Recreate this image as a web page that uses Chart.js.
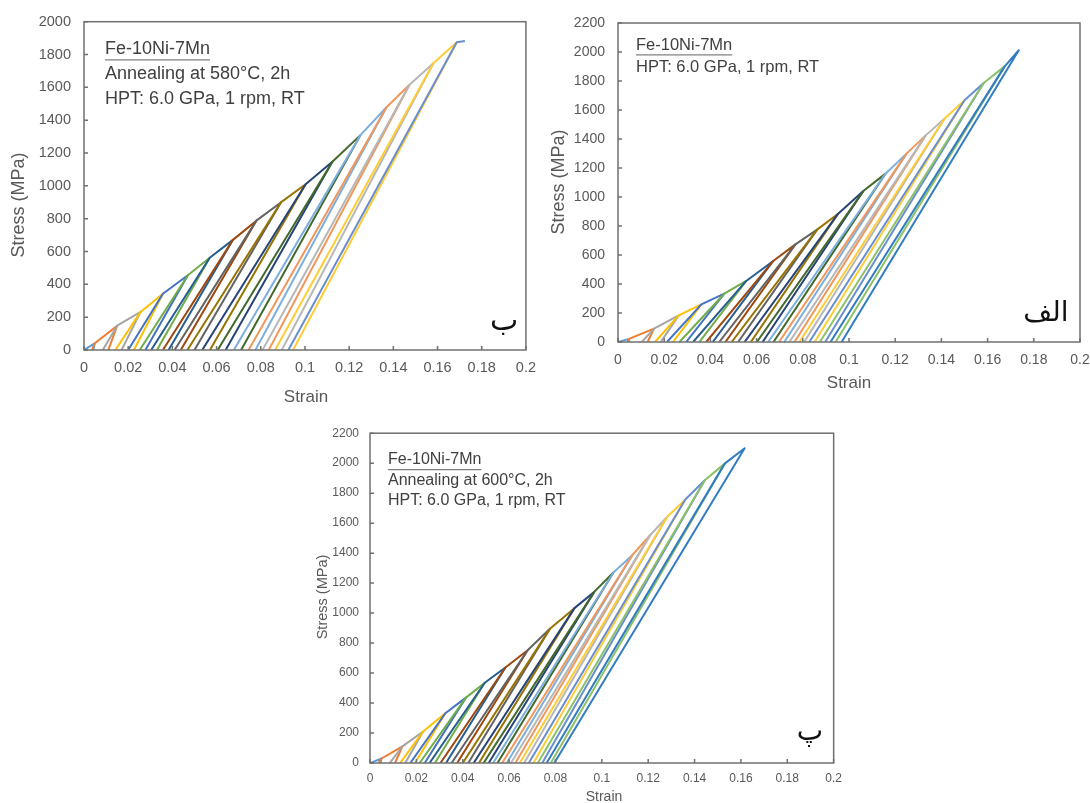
<!DOCTYPE html>
<html>
<head>
<meta charset="utf-8">
<script src="https://cdn.jsdelivr.net/npm/chart.js@4.4.1/dist/chart.umd.min.js"></script>
<style>
  html, body { margin: 0; padding: 0; background: #fff; }
  body { width: 1090px; height: 803px; position: relative; overflow: hidden; }
  .panel { position: absolute; }
</style>
</head>
<body>
<div class="panel" style="left:0;top:0"><canvas id="chartB" width="545" height="410"></canvas></div>
<div class="panel" style="left:545px;top:0"><canvas id="chartAlef" width="560" height="410"></canvas></div>
<div class="panel" style="left:300px;top:415px"><canvas id="chartPe" width="550" height="388"></canvas></div>
<script>
// Excel default series colours, in series order
const palette = ['#5B9BD5', '#ED7D31', '#A5A5A5', '#FFC000', '#4472C4', '#70AD47',
                 '#255E91', '#9E480E', '#636363', '#997300', '#264478', '#43682B',
                 '#7CAFDD', '#F1975A', '#B7B7B7', '#FFCD33', '#698ED0', '#8CC168', '#327DC2'];

const strainTicks = [0, 0.02, 0.04, 0.06, 0.08, 0.1, 0.12, 0.14, 0.16, 0.18, 0.2];
const stressTicks2000 = [0, 200, 400, 600, 800, 1000, 1200, 1400, 1600, 1800, 2000];
const stressTicks2200 = [0, 200, 400, 600, 800, 1000, 1200, 1400, 1600, 1800, 2000, 2200];

// ب : annealed 580°C, 2h — one entry per load/unload cycle
const bStart       = [0, 0.0036, 0.0085, 0.0142, 0.02, 0.0252, 0.0304, 0.0357, 0.041, 0.0468, 0.0535, 0.0605, 0.0678, 0.0745, 0.0808, 0.0865, 0.0925];
const bPeakStrain  = [0.0048, 0.015, 0.0256, 0.0357, 0.047, 0.0569, 0.0674, 0.078, 0.0891, 0.1003, 0.1124, 0.1251, 0.1369, 0.1473, 0.1581, 0.1687, 0.1724];
const bPeakStress  = [40, 148, 232, 343, 455, 562, 671, 788, 899, 1010, 1147, 1309, 1479, 1616, 1747, 1875, 1883];
const bUnloadEnd   = [0.0042, 0.011, 0.017, 0.0226, 0.0278, 0.033, 0.0383, 0.0438, 0.05, 0.057, 0.0641, 0.0711, 0.0776, 0.0836, 0.0895, 0.0946, null];

// الف : as-processed HPT
const alefStart      = [0, 0.005, 0.0103, 0.016, 0.0212, 0.0266, 0.0325, 0.0382, 0.0438, 0.0492, 0.0548, 0.0601, 0.065, 0.0697, 0.0742, 0.0785, 0.0828, 0.0874, 0.092];
const alefPeakStrain = [0.0045, 0.0156, 0.0263, 0.0361, 0.046, 0.0555, 0.0672, 0.0768, 0.0862, 0.0953, 0.1062, 0.1158, 0.1249, 0.1332, 0.1413, 0.15, 0.1583, 0.1674, 0.1735];
const alefPeakStress = [20, 92, 184, 260, 333, 421, 559, 673, 775, 885, 1041, 1161, 1299, 1425, 1540, 1667, 1786, 1901, 2012];
const alefUnloadEnd  = [0.0043, 0.0128, 0.0185, 0.0238, 0.0295, 0.0352, 0.041, 0.0465, 0.052, 0.0575, 0.0626, 0.0673, 0.072, 0.0764, 0.0806, 0.0851, 0.0897, 0.0942, 0.0968];

// پ : annealed 600°C, 2h
const peStart      = [0, 0.0037, 0.0085, 0.013, 0.0174, 0.0214, 0.0257, 0.0304, 0.0352, 0.04, 0.0447, 0.049, 0.0531, 0.057, 0.0608, 0.0646, 0.0685, 0.0724, 0.0762];
const pePeakStrain = [0.005, 0.014, 0.0229, 0.0325, 0.0414, 0.0495, 0.0584, 0.068, 0.0776, 0.0882, 0.0968, 0.105, 0.1131, 0.1208, 0.1282, 0.136, 0.1444, 0.153, 0.1616];
const pePeakStress = [30, 111, 210, 332, 436, 535, 637, 752, 895, 1033, 1143, 1271, 1386, 1519, 1643, 1758, 1886, 1997, 2100];
const peUnloadEnd  = [0.0045, 0.0108, 0.0152, 0.0194, 0.0236, 0.028, 0.0328, 0.0376, 0.0424, 0.047, 0.0512, 0.055, 0.059, 0.0627, 0.0665, 0.0705, 0.0743, 0.078, 0.0795];

const FONT = '"Liberation Sans", Arial, sans-serif';

// reload from the residual strain, pass the previous peak, reach the new peak, unload
function cycleDatasets(start, peakStrain, peakStress, unloadEnd) {
  return start.map((s, i) => {
    const pts = [{ x: s, y: 0 }];
    if (i > 0) pts.push({ x: peakStrain[i - 1], y: peakStress[i - 1] });
    pts.push({ x: peakStrain[i], y: peakStress[i] });
    if (unloadEnd[i] != null) pts.push({ x: unloadEnd[i], y: 0 });
    return {
      data: pts,
      borderColor: palette[i],
      borderWidth: 2,
      pointRadius: 0,
      showLine: true,
      tension: 0,
      borderJoinStyle: 'round',
      order: -i
    };
  });
}

// frame, inward tick marks, axis titles, notes and panel letter
const panelDecor = {
  id: 'panelDecor',
  afterDatasetsDraw(chart, args, o) {
    const ctx = chart.ctx;
    const a = chart.chartArea;
    const sx = chart.scales.x, sy = chart.scales.y;
    ctx.save();
    ctx.strokeStyle = '#707070';
    ctx.lineWidth = 1.5;
    ctx.strokeRect(a.left, a.top, a.right - a.left, a.bottom - a.top);
    ctx.beginPath();
    sx.ticks.forEach(t => {
      const px = sx.getPixelForValue(t.value);
      ctx.moveTo(px, a.bottom); ctx.lineTo(px, a.bottom - 4);
    });
    sy.ticks.forEach(t => {
      const py = sy.getPixelForValue(t.value);
      ctx.moveTo(a.left, py); ctx.lineTo(a.left + 4, py);
    });
    ctx.stroke();

    // axis titles
    ctx.fillStyle = '#595959';
    ctx.textAlign = 'center';
    ctx.textBaseline = 'middle';
    ctx.font = o.xTitleSize + 'px ' + FONT;
    ctx.fillText('Strain', o.xTitle[0], o.xTitle[1]);
    ctx.save();
    ctx.translate(o.yTitle[0], o.yTitle[1]);
    ctx.rotate(-Math.PI / 2);
    ctx.font = o.yTitleSize + 'px ' + FONT;
    ctx.fillText('Stress (MPa)', 0, 0);
    ctx.restore();

    // note block, first line underlined
    ctx.fillStyle = '#404040';
    ctx.textAlign = 'left';
    ctx.font = o.noteSize + 'px ' + FONT;
    o.notes.forEach((line, k) => {
      ctx.fillText(line, o.noteX, o.noteY + k * o.noteGap);
    });
    const w = ctx.measureText(o.notes[0]).width;
    ctx.strokeStyle = '#808080';
    ctx.lineWidth = 1.2;
    ctx.beginPath();
    ctx.moveTo(o.noteX, o.noteY + o.noteSize * 0.6);
    ctx.lineTo(o.noteX + w, o.noteY + o.noteSize * 0.6);
    ctx.stroke();

    // panel letter
    ctx.fillStyle = '#111';
    ctx.textAlign = 'center';
    ctx.font = o.letterSize + 'px "DejaVu Sans", sans-serif';
    ctx.fillText(o.letter, o.letterPos[0], o.letterPos[1]);
    ctx.restore();
  }
};

function makeChart(id, p) {
  const box = p.box;           // canvas origin on the page
  const canvas = document.getElementById(id);
  const fmt = v => String(+v.toFixed(2));
  return new Chart(canvas, {
    type: 'scatter',
    data: { datasets: cycleDatasets(p.start, p.peakStrain, p.peakStress, p.unloadEnd) },
    options: {
      responsive: false,
      animation: false,
      events: [],
      layout: {
        padding: { left: 0, top: p.area.top - box[1], right: box[0] + canvas.width - p.area.right, bottom: 0 }
      },
      plugins: {
        legend: { display: false },
        tooltip: { enabled: false },
        panelDecor: {
          xTitle: [p.xTitle[0] - box[0], p.xTitle[1] - box[1]], xTitleSize: p.xTitleSize,
          yTitle: [p.yTitle[0] - box[0], p.yTitle[1] - box[1]], yTitleSize: p.yTitleSize,
          notes: p.notes, noteX: p.noteX - box[0], noteY: p.noteY - box[1], noteGap: p.noteGap, noteSize: p.noteSize,
          letter: p.letter, letterPos: [p.letterPos[0] - box[0], p.letterPos[1] - box[1]], letterSize: p.letterSize
        }
      },
      scales: {
        x: {
          type: 'linear', min: 0, max: 0.2,
          grid: { display: false, drawTicks: false },
          border: { display: false },
          afterBuildTicks: s => { s.ticks = strainTicks.map(v => ({ value: v })); },
          afterFit: s => { s.height = box[1] + canvas.height - p.area.bottom; },
          ticks: {
            autoSkip: false, maxRotation: 0, padding: p.xTickPad,
            color: '#595959', font: { family: FONT, size: p.tickSize },
            callback: v => fmt(v)
          }
        },
        y: {
          type: 'linear', min: 0, max: p.yMax,
          grid: { display: false, drawTicks: false },
          border: { display: false },
          afterBuildTicks: s => { s.ticks = p.yTicks.map(v => ({ value: v })); },
          afterFit: s => { s.width = p.area.left - box[0]; },
          ticks: {
            autoSkip: false, padding: p.yTickPad,
            color: '#595959', font: { family: FONT, size: p.tickSize },
            callback: v => String(v)
          }
        }
      }
    },
    plugins: [panelDecor]
  });
}

makeChart('chartB', {
  box: [0, 0], area: { left: 84, top: 20, right: 529, bottom: 350 },
  start: bStart, peakStrain: bPeakStrain, peakStress: bPeakStress, unloadEnd: bUnloadEnd,
  yMax: 2000, yTicks: stressTicks2000, tickSize: 14.5, xTickPad: 9, yTickPad: 13,
  xTitle: [306, 397], xTitleSize: 17, yTitle: [19, 205], yTitleSize: 18,
  notes: ['Fe-10Ni-7Mn', 'Annealing at 580\u00B0C, 2h', 'HPT: 6.0 GPa, 1 rpm, RT'],
  noteX: 105, noteY: 49, noteGap: 25, noteSize: 18,
  letter: 'ب', letterPos: [504, 322], letterSize: 30
});

makeChart('chartAlef', {
  box: [545, 0], area: { left: 618, top: 23, right: 1080, bottom: 342 },
  start: alefStart, peakStrain: alefPeakStrain, peakStress: alefPeakStress, unloadEnd: alefUnloadEnd,
  yMax: 2200, yTicks: stressTicks2200, tickSize: 14, xTickPad: 10, yTickPad: 13,
  xTitle: [849, 383], xTitleSize: 17, yTitle: [559, 182], yTitleSize: 18,
  notes: ['Fe-10Ni-7Mn', 'HPT: 6.0 GPa, 1 rpm, RT'],
  noteX: 636, noteY: 45, noteGap: 22, noteSize: 16.5,
  letter: 'الف', letterPos: [1046, 314], letterSize: 28
});

makeChart('chartPe', {
  box: [300, 415], area: { left: 370, top: 432, right: 836, bottom: 763 },
  start: peStart, peakStrain: pePeakStrain, peakStress: pePeakStress, unloadEnd: peUnloadEnd,
  yMax: 2200, yTicks: stressTicks2200, tickSize: 12, xTickPad: 8, yTickPad: 11,
  xTitle: [604, 797], xTitleSize: 14, yTitle: [323, 597], yTitleSize: 14.5,
  notes: ['Fe-10Ni-7Mn', 'Annealing at 600\u00B0C, 2h', 'HPT: 6.0 GPa, 1 rpm, RT'],
  noteX: 388, noteY: 460, noteGap: 20.5, noteSize: 16,
  letter: 'پ', letterPos: [810, 733], letterSize: 28
});
</script>
</body>
</html>
